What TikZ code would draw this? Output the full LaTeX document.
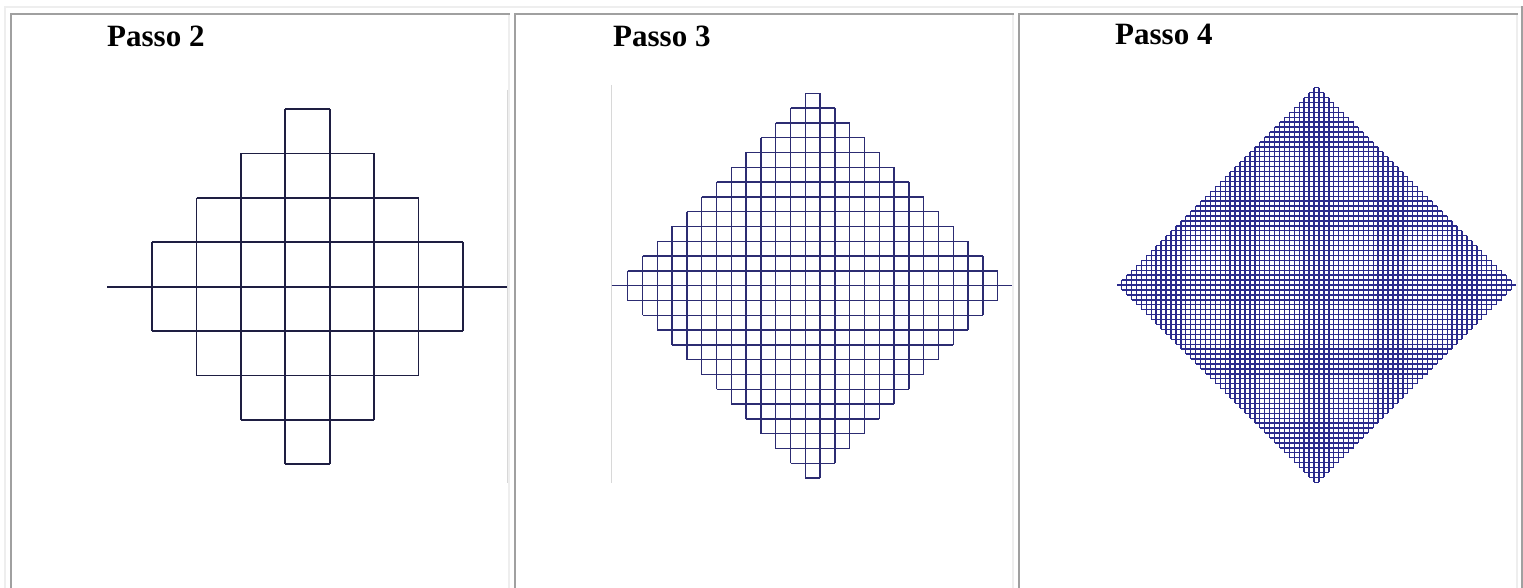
\documentclass[tikz,border=0pt]{standalone}
\usepackage{fontspec}
\setmainfont{Liberation Serif}
\definecolor{tablight}{HTML}{EEEEEE}
\definecolor{tabdark}{HTML}{A0A0A0}
\definecolor{navyA}{HTML}{1E1E42}
\definecolor{navyB}{HTML}{2C2C72}
\definecolor{navyC}{HTML}{2A2A8C}
\definecolor{imgedge}{HTML}{D8D8D8}
\tikzset{
  titletext/.style={font=\bfseries\fontsize{31}{36}\selectfont, inner sep=0pt, anchor=base west},
  gridtwo/.style={draw=navyA, line width=1.8pt},
  gridthree/.style={draw=navyB, line width=1.3pt},
  gridfour/.style={draw=navyC, line width=1.4pt},
  imgborder/.style={draw=imgedge, line width=1pt}
}
% #1 cx, #2 axis y, #3 cell size, #4 half rows h, #5 style
\newcommand{\stairgrid}[5]{%
  \foreach \j in {1,...,#4} {
    \pgfmathsetmacro{\hw}{(#4-\j+0.5)*#3}
    \pgfmathsetmacro{\yy}{\j*#3}
    \pgfmathsetmacro{\xx}{(\j-0.5)*#3}
    \pgfmathsetmacro{\hh}{(#4-\j+1)*#3}
    \draw[#5] ({#1-\hw},{#2-\yy}) -- ({#1+\hw},{#2-\yy});
    \draw[#5] ({#1-\hw},{#2+\yy}) -- ({#1+\hw},{#2+\yy});
    \draw[#5] ({#1-\xx},{#2-\hh}) -- ({#1-\xx},{#2+\hh});
    \draw[#5] ({#1+\xx},{#2-\hh}) -- ({#1+\xx},{#2+\hh});
  }%
}
\begin{document}
\begin{tikzpicture}[x=1pt,y=-1pt]
\useasboundingbox (0,0) rectangle (1523,588);
\fill[white] (0,0) rectangle (1523,588);
% outer table border
\fill[tablight] (4,6) rectangle (6,588);
\fill[tablight] (4,6) rectangle (1521,8);
\fill[tabdark] (1521,6) rectangle (1523,588);
% cells
\foreach \L/\R in {10/510, 514/1014, 1018/1518} {
  \fill[tabdark] (\L,13) rectangle (\L+2,588);
  \fill[tabdark] (\L,13) rectangle (\R,15);
  \fill[tablight] (\R-2,15) rectangle (\R,588);
}
% titles
\node[titletext] (t2) at (107,47) {Passo 2};
\node[titletext] (t3) at (613,47) {Passo 3};
\node[titletext] (t4) at (1115,45) {Passo 4};
% image borders
\draw[imgborder] (507,90) -- (507,483);
\draw[imgborder] (611.5,85) -- (611.5,483);
% step 2
\stairgrid{307.5}{286.7}{44.4}{4}{gridtwo}
\draw[gridtwo] (107,286.7) -- (507,286.7);
% step 3
\stairgrid{812.7}{285.7}{14.8}{13}{gridthree}
\draw[gridthree] (611.5,285.7) -- (1012,285.7);
% step 4
\stairgrid{1316.5}{285}{4.9333}{40}{gridfour}
\draw[gridfour] (1117,285) -- (1516,285);
\end{tikzpicture}
\end{document}
